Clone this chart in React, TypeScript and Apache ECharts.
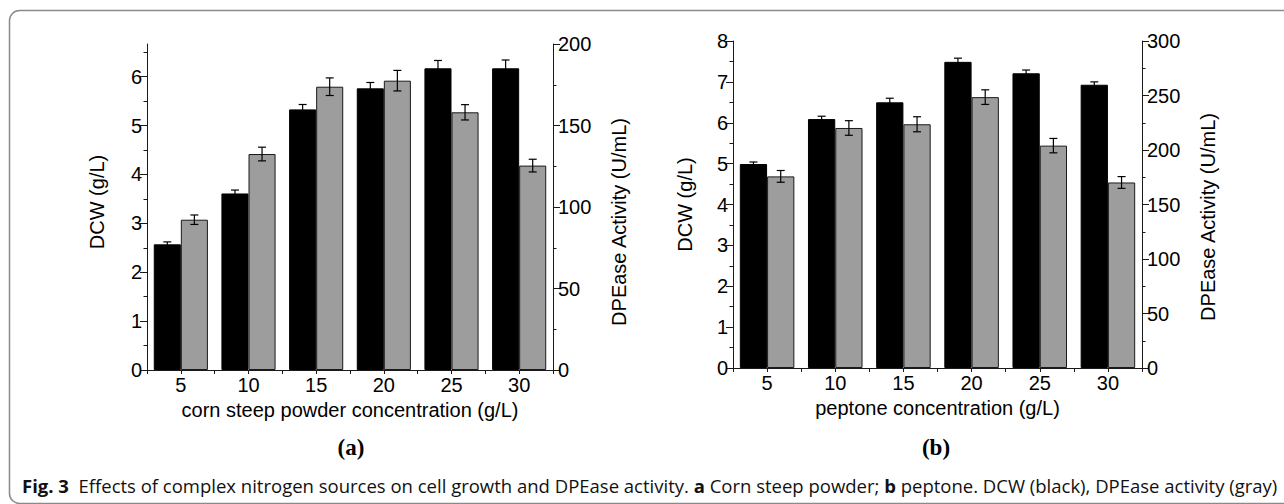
import React, { useEffect, useRef } from 'react';
import * as echarts from 'echarts';

const concentrations = ['5', '10', '15', '20', '25', '30'];

const cornDCW = [2.57, 3.61, 5.33, 5.76, 6.17, 6.17];
const cornDCWErr = [0.05, 0.07, 0.1, 0.12, 0.16, 0.17];
const cornActivity = [92.2, 132.5, 173.8, 177.5, 158.1, 125.4];
const cornActivityErr = [2.9, 4.2, 5.4, 6.3, 4.7, 3.9];

const peptoneDCW = [4.99, 6.09, 6.5, 7.49, 7.21, 6.93];
const peptoneDCWErr = [0.05, 0.07, 0.1, 0.09, 0.08, 0.07];
const peptoneActivity = [175.8, 220.2, 223.6, 248.5, 204.0, 170.2];
const peptoneActivityErr = [5.4, 6.7, 6.9, 6.7, 6.6, 5.4];

const cornDCWTicks = [0, 1, 2, 3, 4, 5, 6];
const cornDCWMinorTicks = [0.5, 1.5, 2.5, 3.5, 4.5, 5.5, 6.5];
const cornDCWMax = 6.667;
const cornActivityMax = 200;
const peptoneDCWMax = 8;
const peptoneActivityMax = 300;

const FONT = 'Liberation Sans';
const AXIS_COLOR = '#1a1a1a';

const axisLine = { show: true, lineStyle: { color: AXIS_COLOR, width: 1 } };
const labelStyle = { color: '#000', fontSize: 20, fontFamily: FONT };
const xNameStyle = { color: '#000', fontSize: 20, fontFamily: FONT };
const yNameStyle = (padding: number[]) => ({ color: '#000', fontSize: 20, fontFamily: FONT, padding });

function errorSeries(xAxisIndex: number, yAxisIndex: number, vals: number[], errs: number[], side: number) {
  return {
    type: 'custom',
    xAxisIndex,
    yAxisIndex,
    z: 10,
    silent: true,
    data: vals.map((v, i) => [i, v - errs[i], v + errs[i]]),
    renderItem: (params: any, api: any) => {
      const i = api.value(0);
      const lo = api.coord([i, api.value(1)]);
      const hi = api.coord([i, api.value(2)]);
      const band = api.size([1, 0])[0];
      const x = lo[0] + side * band * 0.2;
      const cap = 4;
      const st = { stroke: '#000', lineWidth: 1.2 };
      return {
        type: 'group',
        children: [
          { type: 'line', shape: { x1: x, y1: lo[1], x2: x, y2: hi[1] }, style: st },
          { type: 'line', shape: { x1: x - cap, y1: lo[1], x2: x + cap, y2: lo[1] }, style: st },
          { type: 'line', shape: { x1: x - cap, y1: hi[1], x2: x + cap, y2: hi[1] }, style: st },
        ],
      };
    },
  };
}

function xAxes(gridIndex: number, name: string) {
  return [
    {
      type: 'category',
      gridIndex,
      data: concentrations,
      axisLine,
      axisTick: { show: true, interval: 0, alignWithLabel: false, length: 4, lineStyle: { color: AXIS_COLOR } },
      axisLabel: { ...labelStyle, margin: 5, interval: 0 },
      name,
      nameLocation: 'middle',
      nameGap: 27,
      nameTextStyle: xNameStyle,
      splitLine: { show: false },
    },
    {
      type: 'category',
      gridIndex,
      data: concentrations,
      position: 'bottom',
      offset: 0,
      axisLine: { show: false },
      axisTick: { show: true, interval: 0, alignWithLabel: true, length: 4, lineStyle: { color: AXIS_COLOR } },
      axisLabel: { show: false },
      splitLine: { show: false },
    },
  ];
}

function valueAxis(gridIndex: number, position: string, max: number, interval: number, name: string, nameGap: number, padding: number[]) {
  return {
    type: 'value',
    gridIndex,
    position,
    min: 0,
    max,
    interval,
    axisLine,
    axisTick: { show: true, length: 7, lineStyle: { color: AXIS_COLOR } },
    minorTick: { show: true, splitNumber: 2, length: 3.5, lineStyle: { color: AXIS_COLOR } },
    axisLabel: { ...labelStyle, margin: 5 },
    splitLine: { show: false },
    minorSplitLine: { show: false },
    name,
    nameLocation: 'middle',
    nameGap,
    nameTextStyle: yNameStyle(padding),
  };
}

export default function App() {
  const ref = useRef<HTMLDivElement>(null);
  useEffect(() => {
    document.body.style.margin = '0';
    const chart = echarts.init(ref.current!, null, { renderer: 'svg' });
    const option: any = {
      animation: false,
      backgroundColor: '#fff',
      grid: [
        { left: 147, top: 44, width: 406, height: 326 },
        { left: 733, top: 41, width: 409, height: 327 },
      ],
      xAxis: [...xAxes(0, 'corn steep powder concentration (g/L)'), ...xAxes(1, 'peptone concentration (g/L)')],
      yAxis: [
        {
          type: 'value',
          gridIndex: 0,
          position: 'left',
          min: 0,
          max: cornDCWMax,
          axisLine,
          axisTick: { show: true, length: 7, customValues: cornDCWTicks, lineStyle: { color: AXIS_COLOR } },
          axisLabel: {
            ...labelStyle,
            margin: 5,
            customValues: cornDCWTicks,
            formatter: (v: number) => (Math.abs(v - Math.round(v)) < 1e-6 ? String(Math.round(v)) : ''),
          },
          splitLine: { show: false },
          name: 'DCW (g/L)',
          nameLocation: 'middle',
          nameGap: 40,
          nameTextStyle: yNameStyle([0, 0, 0, 10]),
        },
        valueAxis(0, 'right', cornActivityMax, 50, 'DPEase Activity (U/mL)', 56, [0, 30, 0, 0]),
        {
          type: 'value',
          gridIndex: 0,
          position: 'left',
          min: 0,
          max: cornDCWMax,
          axisLine: { show: false },
          axisTick: { show: true, length: 3.5, customValues: cornDCWMinorTicks, lineStyle: { color: AXIS_COLOR } },
          axisLabel: { show: false },
          splitLine: { show: false },
        },
        valueAxis(1, 'left', peptoneDCWMax, 1, 'DCW (g/L)', 38, [0, 0, 0, 0]),
        valueAxis(1, 'right', peptoneActivityMax, 50, 'DPEase Activity (U/mL)', 56, [0, 25, 0, 0]),
      ],
      series: [
        {
          type: 'bar', xAxisIndex: 0, yAxisIndex: 0, data: cornDCW,
          barWidth: '40%', barGap: '0%',
          itemStyle: { color: '#000', borderColor: '#000', borderWidth: 1 },
        },
        {
          type: 'bar', xAxisIndex: 0, yAxisIndex: 1, data: cornActivity,
          barWidth: '40%', barGap: '0%',
          itemStyle: { color: '#9c9d9c', borderColor: '#1a1a1a', borderWidth: 1 },
        },
        errorSeries(0, 0, cornDCW, cornDCWErr, -1),
        errorSeries(0, 1, cornActivity, cornActivityErr, 1),
        {
          type: 'bar', xAxisIndex: 2, yAxisIndex: 3, data: peptoneDCW,
          barWidth: '40%', barGap: '0%',
          itemStyle: { color: '#000', borderColor: '#000', borderWidth: 1 },
        },
        {
          type: 'bar', xAxisIndex: 2, yAxisIndex: 4, data: peptoneActivity,
          barWidth: '40%', barGap: '0%',
          itemStyle: { color: '#9c9d9c', borderColor: '#1a1a1a', borderWidth: 1 },
        },
        errorSeries(2, 3, peptoneDCW, peptoneDCWErr, -1),
        errorSeries(2, 4, peptoneActivity, peptoneActivityErr, 1),
      ],
      graphic: [
        {
          type: 'rect',
          silent: true,
          shape: { x: 9.5, y: 10.5, width: 1300, height: 493, r: 10 },
          style: { fill: 'none', stroke: '#8a8a8a', lineWidth: 1.5 },
        },
        {
          type: 'text', x: 351, y: 447,
          style: { text: '(a)', font: 'bold 23px "Liberation Serif"', fill: '#000', textAlign: 'center', textVerticalAlign: 'middle' },
        },
        {
          type: 'text', x: 936, y: 447,
          style: { text: '(b)', font: 'bold 23px "Liberation Serif"', fill: '#000', textAlign: 'center', textVerticalAlign: 'middle' },
        },
        {
          type: 'text', x: 22, y: 485,
          style: {
            text: '{b|Fig. 3}  Effects of complex nitrogen sources on cell growth and DPEase activity. {b|a} Corn steep powder; {b|b} peptone. DCW (black), DPEase activity (gray)',
            fontFamily: 'Open Sans',
            fontSize: 18.5,
            fill: '#111',
            textVerticalAlign: 'middle',
            rich: { b: { fontWeight: 'bold', fontFamily: 'Open Sans', fontSize: 18.5, fill: '#111' } },
          },
        },
      ],
    };
    chart.setOption(option);
    return () => chart.dispose();
  }, []);
  return <div ref={ref} style={{ width: 1284, height: 504 }} />;
}
